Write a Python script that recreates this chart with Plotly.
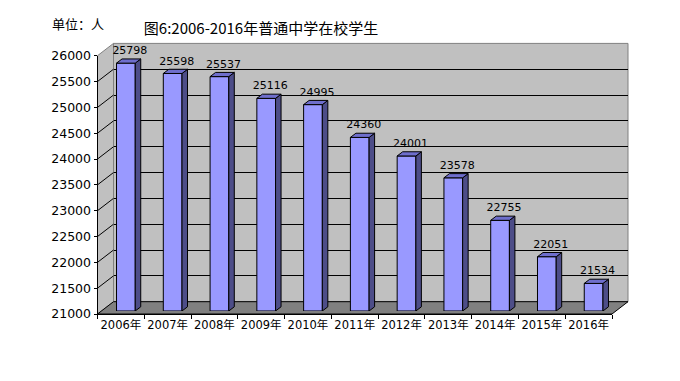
import plotly.graph_objects as go

# ---------------- data ----------------
years = ["2006年", "2007年", "2008年", "2009年", "2010年", "2011年",
         "2012年", "2013年", "2014年", "2015年", "2016年"]
students = [25798, 25598, 25537, 25116, 24995, 24360, 24001, 23578, 22755, 22051, 21534]
y_ticks = [21000, 21500, 22000, 22500, 23000, 23500, 24000, 24500, 25000, 25500, 26000]
y_tick_labels = ["21000", "21500", "22000", "22500", "23000", "23500",
                 "24000", "24500", "25000", "25500", "26000"]
y_min, y_max = 21000, 26000
title_text = "图6:2006-2016年普通中学在校学生"
unit_text = "单位：人"

# ---------------- geometry (pixels) ----------------
W, H = 680, 381
FX0, FX1 = 97.5, 612.0          # front plane left/right
FY_BOT, FY_TOP = 314.0, 55.7     # front plane 21000 / 26000
WALL_DX, WALL_DY = 16.0, -12.3   # depth of the walls
BAR_OFF_X, BAR_OFF_Y = 5.0, -3.0 # bar front face depth
BAR_DX, BAR_DY = 5.5, -4.2       # bar depth
BAR_W = 0.4
LABEL_DX_PX = 4.0

n = len(years)
ux = n / (FX1 - FX0)                      # x data units per px
uy = (y_max - y_min) / (FY_BOT - FY_TOP)  # y data units per px


def dom_x(x0, x1):
    return [x0 / W, x1 / W]


def dom_y(ybot, ytop):
    return [1 - ybot / H, 1 - ytop / H]


FRONT = "#9999FF"
TOP = "#6E6ECC"
SIDE = "#4D4D88"
WALL = "#C0C0C0"
FLOOR = "#808080"

num_font = "DejaVu Sans, Noto Sans CJK SC"
cjk_font = "Noto Sans CJK SC"

fig = go.Figure()

# invisible trace for the front plane (axes)
fig.add_trace(go.Scatter(x=list(range(n)), y=students, mode="none",
                         hoverinfo="skip", showlegend=False,
                         xaxis="x", yaxis="y"))
# invisible trace for back wall subplot
fig.add_trace(go.Scatter(x=list(range(n)), y=students, mode="none",
                         hoverinfo="skip", showlegend=False,
                         xaxis="x2", yaxis="y2"))

xs = list(range(n))
# bars (front faces)
fig.add_trace(go.Bar(x=xs, y=[v - y_min for v in students], base=y_min,
                     width=BAR_W, marker=dict(color=FRONT, line=dict(color="black", width=1)),
                     hoverinfo="skip", showlegend=False, xaxis="x3", yaxis="y3"))

ddx = BAR_DX * ux
ddy = -BAR_DY * uy
# side faces
sx, sy = [], []
for i, v in zip(xs, students):
    r = i + BAR_W / 2
    sx += [r, r + ddx, r + ddx, r, r, None]
    sy += [v, v + ddy, y_min + ddy, y_min, v, None]
fig.add_trace(go.Scatter(x=sx, y=sy, mode="lines", fill="toself", fillcolor=SIDE,
                         line=dict(color="black", width=1), hoverinfo="skip",
                         showlegend=False, xaxis="x3", yaxis="y3", cliponaxis=False))
# top faces
tx, ty = [], []
for i, v in zip(xs, students):
    l, r = i - BAR_W / 2, i + BAR_W / 2
    tx += [l, l + ddx, r + ddx, r, l, None]
    ty += [v, v + ddy, v + ddy, v, v, None]
fig.add_trace(go.Scatter(x=tx, y=ty, mode="lines", fill="toself", fillcolor=TOP,
                         line=dict(color="black", width=1), hoverinfo="skip",
                         showlegend=False, xaxis="x3", yaxis="y3", cliponaxis=False))
# value labels
fig.add_trace(go.Scatter(x=[i + LABEL_DX_PX * ux for i in xs],
                         y=[v + ddy + 2 * uy for v in students],
                         mode="text", text=[str(v) for v in students],
                         textposition="top center",
                         textfont=dict(family=num_font, size=11, color="black"),
                         hoverinfo="skip", showlegend=False,
                         xaxis="x3", yaxis="y3", cliponaxis=False))

shapes = []
# left wall
shapes.append(dict(type="path", xref="paper", yref="paper", layer="below",
                   path="M {} {} L {} {} L {} {} L {} {} Z".format(
                       FX0 / W, 1 - FY_BOT / H, FX0 / W, 1 - FY_TOP / H,
                       (FX0 + WALL_DX) / W, 1 - (FY_TOP + WALL_DY) / H,
                       (FX0 + WALL_DX) / W, 1 - (FY_BOT + WALL_DY) / H),
                   fillcolor=WALL, line=dict(color="#808080", width=1)))
# back wall
shapes.append(dict(type="rect", xref="paper", yref="paper", layer="below",
                   x0=(FX0 + WALL_DX) / W, x1=(FX1 + WALL_DX) / W,
                   y0=1 - (FY_BOT + WALL_DY) / H, y1=1 - (FY_TOP + WALL_DY) / H,
                   fillcolor=WALL, line=dict(color="#808080", width=1)))
# floor
shapes.append(dict(type="path", xref="paper", yref="paper", layer="below",
                   path="M {} {} L {} {} L {} {} L {} {} Z".format(
                       FX0 / W, 1 - FY_BOT / H, FX1 / W, 1 - FY_BOT / H,
                       (FX1 + WALL_DX) / W, 1 - (FY_BOT + WALL_DY) / H,
                       (FX0 + WALL_DX) / W, 1 - (FY_BOT + WALL_DY) / H),
                   fillcolor=FLOOR, line=dict(color="black", width=1)))
# left wall grid lines
for v in y_ticks[1:-1]:
    shapes.append(dict(type="line", xref="paper", yref="y", layer="below",
                       x0=FX0 / W, x1=(FX0 + WALL_DX) / W,
                       y0=v, y1=v - WALL_DY * uy,
                       line=dict(color="black", width=1)))

fig.update_layout(
    width=W, height=H, autosize=False,
    margin=dict(l=0, r=0, t=0, b=0, pad=0, autoexpand=False),
    paper_bgcolor="white", plot_bgcolor="rgba(0,0,0,0)",
    showlegend=False,
    shapes=shapes,
    title=dict(text=title_text, x=261 / W, xanchor="center", y=1 - 29 / H,
               yanchor="middle", yref="container", automargin=False,
               font=dict(family=cjk_font, size=15, color="black")),
    annotations=[dict(text=unit_text, x=50 / W, y=1 - 23 / H, xref="paper", yref="paper",
                      xanchor="left", yanchor="middle", showarrow=False,
                      font=dict(family=cjk_font, size=13, color="black"))],
    xaxis=dict(domain=dom_x(FX0, FX1), range=[-0.5, n - 0.5], anchor="y",
               automargin=False,
               tickvals=xs, ticktext=years, ticks="", showgrid=False, zeroline=False,
               showline=True, linecolor="black", linewidth=1,
               minor=dict(tickvals=[k - 0.5 for k in range(n + 1)], ticks="outside",
                          ticklen=4, tickcolor="black", showgrid=False),
               tickfont=dict(family=num_font, size=11.5, color="black"),
               fixedrange=True),
    yaxis=dict(domain=dom_y(FY_BOT, FY_TOP), range=[y_min, y_max], anchor="x",
               automargin=False,
               tickvals=y_ticks, ticktext=y_tick_labels, ticks="outside", ticklen=3,
               tickcolor="black",
               showgrid=False, zeroline=False, showline=True, linecolor="black",
               linewidth=1, tickfont=dict(family=num_font, size=12.5, color="black"),
               fixedrange=True),
    xaxis2=dict(domain=dom_x(FX0 + WALL_DX, FX1 + WALL_DX), range=[-0.5, n - 0.5],
                anchor="y2", showgrid=False, zeroline=False, showticklabels=False,
                automargin=False, ticks="", showline=False, fixedrange=True),
    yaxis2=dict(domain=dom_y(FY_BOT + WALL_DY, FY_TOP + WALL_DY), range=[y_min, y_max],
                anchor="x2", tickvals=y_ticks[1:-1], showgrid=True, gridcolor="black",
                automargin=False,
                gridwidth=1, zeroline=False, showticklabels=False, ticks="",
                showline=False, fixedrange=True),
    xaxis3=dict(domain=dom_x(FX0 + BAR_OFF_X, FX1 + BAR_OFF_X), range=[-0.5, n - 0.5],
                anchor="y3", visible=False, fixedrange=True, automargin=False),
    yaxis3=dict(domain=dom_y(FY_BOT + BAR_OFF_Y, FY_TOP + BAR_OFF_Y), range=[y_min, y_max],
                anchor="x3", visible=False, fixedrange=True, automargin=False),
)

fig.write_html("out.html", config={"displayModeBar": False},
               post_script="document.body.style.margin='0';document.body.style.overflow='hidden';")
